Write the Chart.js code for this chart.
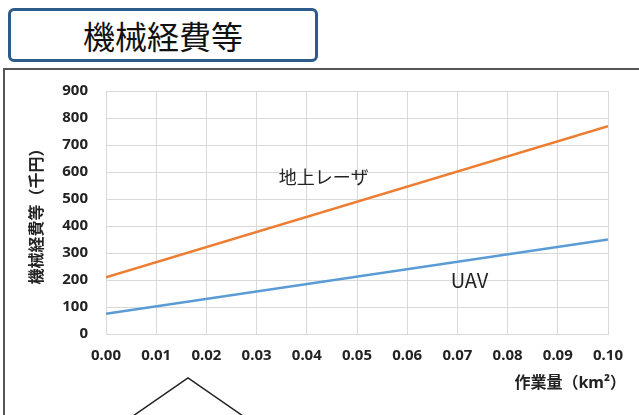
<!DOCTYPE html>
<html>
<head>
<meta charset="utf-8">
<script src="https://cdn.jsdelivr.net/npm/chart.js@4/dist/chart.umd.min.js"></script>
<style>
    html, body { margin: 0; padding: 0; background: #fff; }
    .page { position: relative; width: 639px; height: 415px; overflow: hidden; }
    .title-box {
        position: absolute; left: 8px; top: 8px; width: 304px; height: 48px;
        border: 3px solid #2c5b8c; border-radius: 6px;
        font-family: "Noto Sans CJK JP", sans-serif; font-size: 32px;
        line-height: 48px; text-align: center; color: #111;
    }
    .frame {
        position: absolute; left: 3px; top: 68px; width: 700px; height: 400px;
        border-left: 2px solid #555; border-top: 2px solid #555;
    }
    .chart-wrap { position: absolute; left: 0; top: 0; width: 639px; height: 415px; }
    svg.callout { position: absolute; left: 0; top: 0; }
</style>
</head>
<body>
<div class="page">
    <div class="title-box">機械経費等</div>
    <div class="frame"></div>
    <svg class="callout" width="639" height="415">
        <polyline points="133,416 188,378 243,416" fill="none" stroke="#222" stroke-width="1.5"/>
    </svg>
    <div class="chart-wrap"><canvas id="costChart"></canvas></div>
</div>

<script>
    // data
    const workX = [0, 0.10];              // 作業量 (km²)
    const laserCost = [210, 770];         // 地上レーザ (千円)
    const uavCost = [75, 350];            // UAV (千円)
    const seriesNames = ['地上レーザ', 'UAV'];
    const labelPos = [[0.0434, 580], [0.0724, 199]];
    const labelSize = [18, 20];

    const tickFont = { family: '"Noto Sans", "Noto Sans CJK JP", sans-serif', size: 15, weight: 'bold' };

    // series names and x title drawn on the canvas
    const textPlugin = {
        id: 'chartText',
        afterDraw(chart) {
            const { ctx, scales, chartArea } = chart;
            ctx.save();
            ctx.fillStyle = '#222';
            ctx.textAlign = 'center';
            ctx.textBaseline = 'middle';
            seriesNames.forEach((name, i) => {
                ctx.font = labelSize[i] + 'px "Noto Sans CJK JP", sans-serif';
                ctx.fillText(name, scales.x.getPixelForValue(labelPos[i][0]), scales.y.getPixelForValue(labelPos[i][1]));
            });
            ctx.textAlign = 'right';
            ctx.font = 'bold 16px "Noto Sans", "Noto Sans CJK JP", sans-serif';
            ctx.fillText('作業量（km²）', chartArea.right + 18, chartArea.bottom + 49);
            ctx.restore();
        }
    };

    new Chart(document.getElementById('costChart'), {
        type: 'line',
        data: {
            datasets: [{
                label: seriesNames[0],
                data: workX.map((x, i) => ({ x: x, y: laserCost[i] })),
                borderColor: '#ed7d31',
                borderWidth: 2.5,
                pointRadius: 0
            }, {
                label: seriesNames[1],
                data: workX.map((x, i) => ({ x: x, y: uavCost[i] })),
                borderColor: '#5b9bd5',
                borderWidth: 2.5,
                pointRadius: 0
            }]
        },
        options: {
            responsive: true,
            maintainAspectRatio: false,
            animation: false,
            layout: { padding: { left: 22, top: 91, right: 31, bottom: 0 } },
            plugins: { legend: { display: false }, tooltip: { enabled: false } },
            scales: {
                x: {
                    type: 'linear', min: 0, max: 0.1,
                    grid: { color: '#d9d9d9', drawTicks: false },
                    border: { color: '#d9d9d9' },
                    ticks: {
                        stepSize: 0.01, padding: 13, color: '#222', font: tickFont,
                        maxRotation: 0, autoSkip: false,
                        callback: v => v.toFixed(2)
                    },
                    afterFit: s => { s.height = 81; }
                },
                y: {
                    min: 0, max: 900,
                    grid: { color: '#d9d9d9', drawTicks: false },
                    border: { color: '#d9d9d9' },
                    ticks: { stepSize: 100, padding: 18, color: '#222', font: tickFont },
                    title: {
                        display: true, text: '機械経費等（千円）', color: '#222',
                        font: { family: '"Noto Sans CJK JP", sans-serif', size: 16, weight: 'bold' }
                    },
                    afterFit: s => { s.width = 84; }
                }
            }
        },
        plugins: [textPlugin]
    });
</script>
</body>
</html>
